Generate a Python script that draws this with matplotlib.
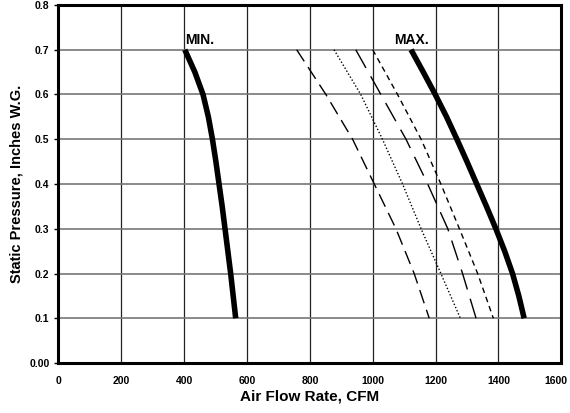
import matplotlib.pyplot as plt
import matplotlib.transforms as mtransforms

# pressure levels (inches W.G.)
pressure = [0.7, 0.6, 0.5, 0.4, 0.3, 0.2, 0.1]
pressure_fine = [0.7, 0.65, 0.6, 0.55, 0.5, 0.45, 0.4, 0.35, 0.3, 0.25, 0.2, 0.15, 0.1]

# air flow (CFM) per curve, read at each pressure level
cfm_min = [402, 434, 460, 477, 490, 501, 511, 521, 530, 539, 548, 556, 564]
cfm_max = [1122, 1161, 1199, 1235, 1268, 1300, 1331, 1362, 1392, 1420, 1445, 1465, 1482]
cfm_a = [758, 851, 936, 1005, 1074, 1132, 1180]
cfm_b = [877, 962, 1031, 1095, 1154, 1217, 1279]
cfm_c = [946, 1026, 1106, 1175, 1239, 1286, 1329]
cfm_d = [1000, 1079, 1154, 1217, 1276, 1334, 1384]

x_ticks = [0, 200, 400, 600, 800, 1000, 1200, 1400, 1600]
y_ticks = [0.0, 0.1, 0.2, 0.3, 0.4, 0.5, 0.6, 0.7, 0.8]
y_labels = ['0.00', '0.1', '0.2', '0.3', '0.4', '0.5', '0.6', '0.7', '0.8']

plt.rcParams['font.family'] = ['Liberation Sans', 'DejaVu Sans']
plt.rcParams['font.weight'] = 'bold'

fig = plt.figure(figsize=(5.7, 4.13), dpi=100)
ax = fig.add_axes([0.1026, 0.121, 0.882, 0.867])

ax.plot(cfm_min, pressure_fine, color='black', lw=4, solid_capstyle='butt', solid_joinstyle='round')
ax.plot(cfm_a, pressure, color='black', lw=1, dashes=(10, 5))
ax.plot(cfm_b, pressure, color='black', lw=1, dashes=(1, 1.5))
ax.plot(cfm_c, pressure, color='black', lw=1, dashes=(15, 7))
ax.plot(cfm_d, pressure, color='black', lw=1, dashes=(4, 3))
ax.plot(cfm_max, pressure_fine, color='black', lw=4, solid_capstyle='butt', solid_joinstyle='round')

ax.text(403, 0.712, 'MIN.', fontsize=10, fontweight='bold')
ax.text(1068, 0.712, 'MAX.', fontsize=10, fontweight='bold')

ax.set_xlim(0, 1600)
ax.set_ylim(0, 0.8)
ax.set_xticks(x_ticks)
ax.set_yticks(y_ticks)
ax.set_yticklabels(y_labels)
for x in x_ticks[1:-1]:
    ax.axvline(x, color='#222222', lw=0.9, zorder=0)
for y in y_ticks[1:-1]:
    ax.axhline(y, color='#777777', lw=1.2, zorder=0)

for s in ax.spines.values():
    s.set_linewidth(2.2)
ax.tick_params(axis='x', length=0, pad=9, labelsize=7.5)
ax.tick_params(axis='y', length=3, width=1, labelsize=7.5)

# keep the last x label inside the figure
last = ax.get_xticklabels()[-1]
last.set_transform(last.get_transform() + mtransforms.ScaledTranslation(-5 / 100, 0, fig.dpi_scale_trans))

ax.set_xlabel('Air Flow Rate, CFM', fontsize=11, fontweight='bold', labelpad=3)
ax.set_ylabel('Static Pressure, Inches W.G.', fontsize=10.5, fontweight='bold', labelpad=4)

fig.savefig('out.png', dpi=100)
